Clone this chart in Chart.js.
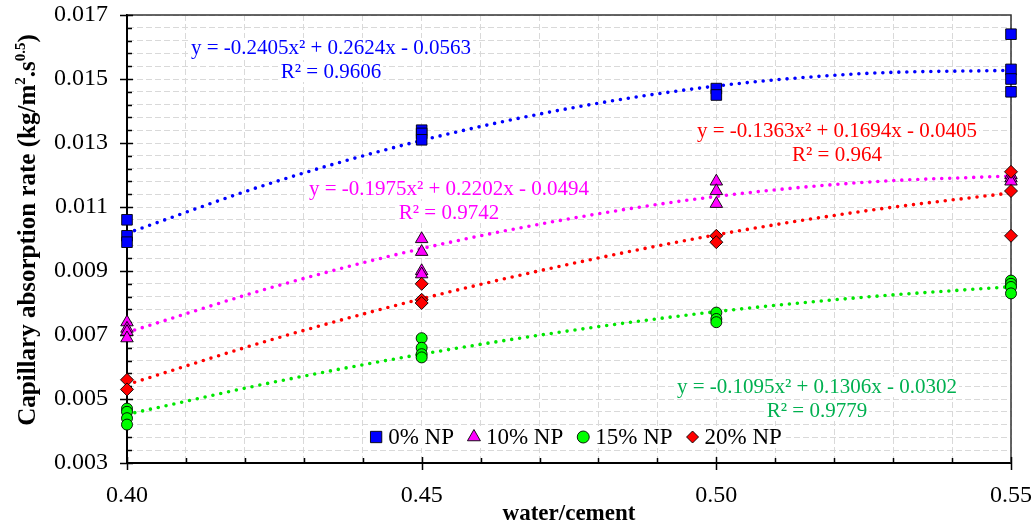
<!DOCTYPE html>
<html><head><meta charset="utf-8">
<script src="https://cdn.jsdelivr.net/npm/chart.js@4.4.1/dist/chart.umd.min.js"></script>
<style>html,body{margin:0;padding:0;background:#fff;overflow:hidden}canvas{display:block}</style>
</head><body>
<canvas id="c" width="1036" height="527"></canvas>
<script>
// ---------- data ----------
const xValues = [0.40, 0.45, 0.50, 0.55];
const np0Values  = [[0.0106, 0.0101, 0.0099], [0.0134, 0.0133, 0.0131], [0.0147, 0.0145], [0.0164, 0.0153, 0.0150, 0.0146]];
const np10Values = [[0.0074, 0.0072, 0.0071, 0.0069], [0.0100, 0.0096, 0.0090, 0.0089], [0.0118, 0.0115, 0.0111], [0.0120, 0.0119, 0.0118]];
const np15Values = [[0.0047, 0.0046, 0.0044, 0.0042], [0.0069, 0.0066, 0.0064, 0.0063], [0.0077, 0.0075, 0.0074], [0.0087, 0.0086, 0.0085, 0.0083]];
const np20Values = [[0.0056, 0.0053], [0.0086, 0.0081, 0.0080], [0.0101, 0.0099], [0.0121, 0.0115, 0.0101]];

const trendX  = [0.40, 0.425, 0.45, 0.475, 0.50, 0.525, 0.55];
const trend0  = [0.01018, 0.01178, 0.01308, 0.01408, 0.01478, 0.01517, 0.01527];
const trend10 = [0.00708, 0.00851, 0.00970, 0.01063, 0.01133, 0.01177, 0.01197];
const trend15 = [0.00452, 0.00553, 0.00640, 0.00713, 0.00773, 0.00818, 0.00851];
const trend20 = [0.00545, 0.00688, 0.00813, 0.00921, 0.01013, 0.01087, 0.01144];

const seriesNames = ['0% NP', '10% NP', '15% NP', '20% NP'];
const equationTexts = ['y = -0.2405x² + 0.2624x - 0.0563', 'y = -0.1975x² + 0.2202x - 0.0494', 'y = -0.1095x² + 0.1306x - 0.0302', 'y = -0.1363x² + 0.1694x - 0.0405'];
const r2Texts = ['R² = 0.9606', 'R² = 0.9742', 'R² = 0.9779', 'R² = 0.964'];
const xTickLabels = ['0.40', '0.45', '0.50', '0.55'];
const yTickLabels = ['0.003', '0.005', '0.007', '0.009', '0.011', '0.013', '0.015', '0.017'];
const xTitle = 'water/cement';
const yTitleParts = [['Capillary absorption rate (kg/m', 0], ['2', 1], ['.s', 0], ['0.5', 1], [')', 0]];

// ---------- styles ----------
const FONT = "'Liberation Serif', 'Times New Roman', serif";
const colors = ['#0000FF', '#FF00FF', '#00FF00', '#FF0000'];
const trendColors = ['#0000FF', '#FF00FF', '#00E600', '#FF0000'];
const textColors = ['#0000FF', '#FF00FF', '#00B050', '#FF0000'];
const pointStyles = ['rect', 'triangle', 'circle', 'rectRot'];
const pointRadii = [7.5, 7.2, 5.5, 6.5];
const drawOrder = [3, 2, 1, 0];
const eqPos = [[331, 48, 72], [449, 189, 213], [817, 387, 411], [837, 131, 155]];

const xMin = 0.40, xMax = 0.55, xMinor = 0.01;
const yMin = 0.003, yMax = 0.017, yMinor = 0.0004;

function toPoints(groups) {
  const pts = [];
  groups.forEach((g, i) => g.forEach(v => pts.push({x: xValues[i], y: v})));
  return pts;
}
function trendPoints(arr) { return trendX.map((x, i) => ({x: x, y: arr[i]})); }

const seriesData = [np0Values, np10Values, np15Values, np20Values];
const trendData = [trend0, trend10, trend15, trend20];

const datasets = [];
seriesData.forEach((s, i) => {
  datasets.push({
    label: seriesNames[i], data: toPoints(s), showLine: false,
    pointStyle: pointStyles[i], pointRadius: pointRadii[i], pointHoverRadius: pointRadii[i],
    backgroundColor: colors[i], borderColor: '#000', borderWidth: 0.9,
    order: drawOrder[i], clip: false
  });
});
trendData.forEach((t, i) => {
  datasets.push({
    label: 'trend ' + seriesNames[i], data: trendPoints(t), showLine: true,
    pointRadius: 0, borderColor: trendColors[i], borderWidth: 3.6,
    borderDash: [0, 8], borderCapStyle: 'round', cubicInterpolationMode: 'monotone',
    fill: false, order: 10, clip: false
  });
});

function minorTicks(min, max, step) {
  const n = Math.round((max - min) / step);
  const out = [];
  for (let i = 0; i <= n; i++) out.push(Number((min + i * step).toFixed(6)));
  return out;
}
function labelFor(labels, value) {
  for (const l of labels) if (Math.abs(parseFloat(l) - value) < 1e-7) return l;
  return '';
}

function drawMarker(ctx, style, x, y, r, fill) {
  ctx.beginPath();
  if (style === 'rect') { const s = r * Math.SQRT1_2; ctx.rect(x - s, y - s, 2 * s, 2 * s); }
  else if (style === 'triangle') {
    for (let k = 0; k < 3; k++) { const a = k * 2 * Math.PI / 3; const px = x + Math.sin(a) * r, py = y - Math.cos(a) * r; k ? ctx.lineTo(px, py) : ctx.moveTo(px, py); }
    ctx.closePath();
  }
  else if (style === 'circle') ctx.arc(x, y, r, 0, Math.PI * 2);
  else { ctx.moveTo(x - r, y); ctx.lineTo(x, y - r); ctx.lineTo(x + r, y); ctx.lineTo(x, y + r); ctx.closePath(); }
  ctx.fillStyle = fill; ctx.fill();
  ctx.lineWidth = 0.9; ctx.strokeStyle = '#000'; ctx.stroke();
}

const decor = {
  id: 'decor',
  beforeDatasetsDraw(chart) {
    const ctx = chart.ctx, a = chart.chartArea, xs = chart.scales.x, ys = chart.scales.y;
    ctx.save();
    // top & right frame
    ctx.strokeStyle = '#333'; ctx.lineWidth = 1.5;
    ctx.beginPath(); ctx.moveTo(a.left, a.top); ctx.lineTo(a.right, a.top); ctx.lineTo(a.right, a.bottom); ctx.stroke();
    // tick marks
    ctx.strokeStyle = '#000'; ctx.lineWidth = 1.5;
    ctx.beginPath();
    minorTicks(yMin, yMax, yMinor).forEach(v => {
      const py = Math.round(ys.getPixelForValue(v)) + 0.5;
      if (labelFor(yTickLabels, v)) { ctx.moveTo(a.left - 7, py); ctx.lineTo(a.left + 6, py); }
      else { ctx.moveTo(a.left, py); ctx.lineTo(a.left + 5, py); }
    });
    minorTicks(xMin, xMax, xMinor).forEach(v => {
      const px = Math.round(xs.getPixelForValue(v)) + 0.5;
      if (labelFor(xTickLabels, v)) { ctx.moveTo(px, a.bottom + 7); ctx.lineTo(px, a.bottom - 6); }
      else { ctx.moveTo(px, a.bottom); ctx.lineTo(px, a.bottom - 5); }
    });
    ctx.stroke();
    ctx.restore();
  },
  afterDatasetsDraw(chart) {
    const ctx = chart.ctx, a = chart.chartArea;
    ctx.save();
    // equation labels
    ctx.font = '21px ' + FONT;
    ctx.textAlign = 'center'; ctx.textBaseline = 'middle';
    equationTexts.forEach((t, i) => {
      const [cx, y1, y2] = eqPos[i];
      const w1 = ctx.measureText(t).width, w2 = ctx.measureText(r2Texts[i]).width;
      ctx.fillStyle = '#fff';
      ctx.fillRect(cx - w1 / 2 - 2, y1 - 10, w1 + 4, 20);
      ctx.fillRect(cx - w2 / 2 - 2, y2 - 10, w2 + 4, 20);
      ctx.fillStyle = textColors[i];
      ctx.fillText(t, cx, y1);
      ctx.fillText(r2Texts[i], cx, y2);
    });
    // legend
    ctx.font = '23px ' + FONT;
    ctx.textAlign = 'left';
    const mk = 12, gap = 6, itemGap = 14;
    const widths = seriesNames.map(n => mk + gap + ctx.measureText(n).width);
    const total = widths.reduce((p, c) => p + c, 0) + itemGap * (seriesNames.length - 1);
    let lx = 576 - total / 2;
    const ly = 437;
    ctx.fillStyle = '#fff';
    ctx.fillRect(lx - 4, ly - 11, total + 8, 22);
    seriesNames.forEach((n, i) => {
      drawMarker(ctx, pointStyles[i], lx + mk / 2, ly, i === 0 ? 8 : (i === 1 ? 7.5 : 6), colors[i]);
      ctx.fillStyle = '#000';
      ctx.fillText(n, lx + mk + gap, ly + 1);
      lx += widths[i] + itemGap;
    });
    // x title
    ctx.font = 'bold 23px ' + FONT;
    ctx.textAlign = 'center';
    ctx.fillStyle = '#000';
    ctx.fillText(xTitle, (a.left + a.right) / 2, 514);
    // y title with superscripts
    ctx.translate(35, 230);
    ctx.rotate(-Math.PI / 2);
    ctx.textBaseline = 'alphabetic';
    ctx.textAlign = 'left';
    const big = 'bold 25px ' + FONT, small = 'bold 15px ' + FONT;
    let tw = 0;
    yTitleParts.forEach(([t, s]) => { ctx.font = s ? small : big; tw += ctx.measureText(t).width; });
    let tx = -tw / 2;
    yTitleParts.forEach(([t, s]) => {
      ctx.font = s ? small : big;
      ctx.fillText(t, tx, s ? -10 : 0);
      tx += ctx.measureText(t).width;
    });
    ctx.restore();
  }
};

new Chart(document.getElementById('c'), {
  type: 'scatter',
  data: { datasets: datasets },
  options: {
    responsive: false, animation: false, devicePixelRatio: 1,
    layout: { padding: { top: 15, right: 25, left: 0, bottom: 0 } },
    plugins: { legend: { display: false }, tooltip: { enabled: false } },
    scales: {
      x: {
        type: 'linear', min: xMin, max: xMax,
        afterBuildTicks: s => { s.ticks = minorTicks(xMin, xMax, xMinor).map(v => ({value: v})); },
        afterFit: s => { s.height = 64; s.paddingLeft = 0; s.paddingRight = 0; },
        ticks: { autoSkip: false, maxRotation: 0, minRotation: 0, padding: 18, color: '#000',
                 font: { family: FONT, size: 24 }, callback: v => labelFor(xTickLabels, v) },
        grid: { color: '#d9d9d9', lineWidth: 1, drawTicks: false },
        border: { display: true, color: '#000', width: 2, dash: [6, 3] }
      },
      y: {
        type: 'linear', min: yMin, max: yMax,
        afterBuildTicks: s => { s.ticks = minorTicks(yMin, yMax, yMinor).map(v => ({value: v})); },
        afterFit: s => { s.width = 127; s.paddingTop = 0; s.paddingBottom = 0; },
        ticks: { autoSkip: false, padding: 19, color: '#000',
                 font: { family: FONT, size: 24 }, callback: v => labelFor(yTickLabels, v) },
        grid: { color: '#d9d9d9', lineWidth: 1, drawTicks: false },
        border: { display: true, color: '#000', width: 2, dash: [6, 3] }
      }
    }
  },
  plugins: [decor]
});
</script>
</body></html>
